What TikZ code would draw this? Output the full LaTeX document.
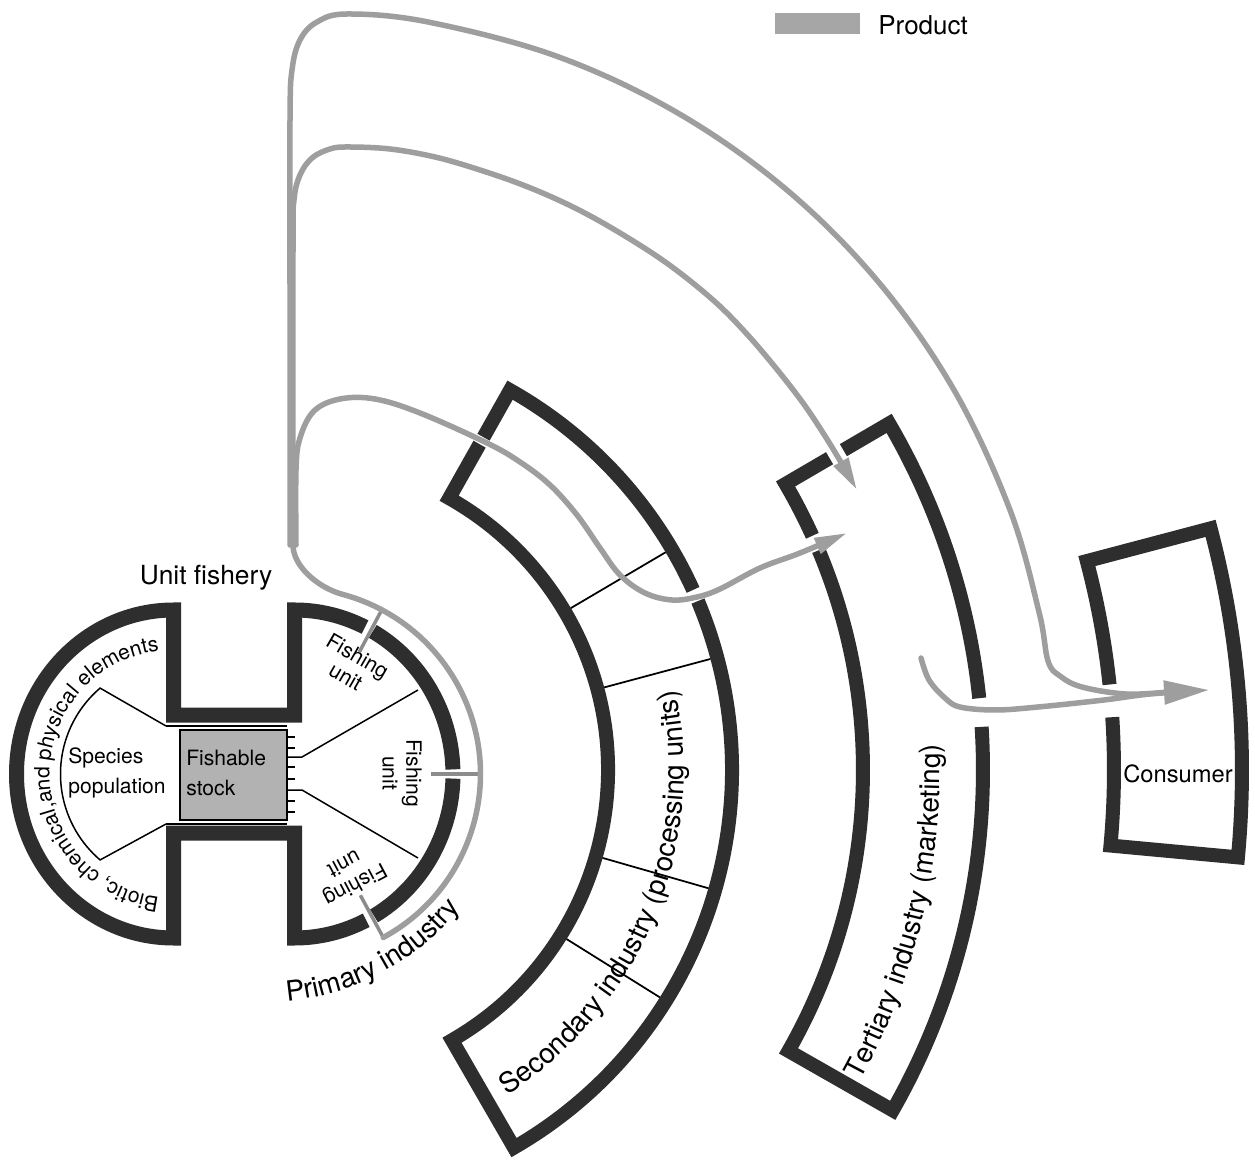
\documentclass[tikz,border=0pt]{standalone}
\usepackage{fontspec}
\setmainfont{TeX Gyre Heros}
\usetikzlibrary{arrows.meta,decorations.text}
\begin{document}
\begin{tikzpicture}[x=0.2mm,y=0.2mm,
  fband/.style={draw=black!82, line width=3mm},
  iband/.style={draw=black!82, line width=2.8mm},
  divline/.style={draw=black, line width=0.35mm},
  thinline/.style={draw=black, line width=0.3mm},
  prod/.style={draw=black!38, line width=1.1mm, line cap=round},
  tapline/.style={draw=black!45, line width=0.7mm},
  flow/.style={prod, -{Triangle[length=6.5mm,width=3.2mm]}},
  bigflow/.style={prod, -{Triangle[length=9mm,width=4.6mm]}},
  small/.style={font=\fontsize{12}{17}\selectfont, inner sep=0pt},
  unitlbl/.style={font=\fontsize{12}{13.5}\selectfont, inner sep=0pt, align=center},
  big/.style={font=\fontsize{15}{18}\selectfont, inner sep=0pt}
]
\useasboundingbox (0,0) rectangle (1255,1166);
\fill[white] (0,0) rectangle (1255,1166);

\coordinate (L) at (173.5,392);
\coordinate (R) at (294.5,392);
\coordinate (O) at (296,396);

% ---------- industry blocks ----------
\begin{scope}[shift={(296,396)}]
 % secondary
 \draw[iband] (60.6:382) -- (60.6:436) arc[start angle=60.6, end angle=24.4, radius=436];
 \draw[iband] (22.8:436) arc[start angle=22.8, end angle=-60, radius=436] -- (-60:312) arc[start angle=-60, end angle=60.6, radius=312] -- (60.6:374);
 \foreach \a in {30.5,15,-16,-32} \draw[divline] (\a:319) -- (\a:429);
 % tertiary
 \draw[iband] (30.3:634) -- (30.3:687) arc[start angle=30.3, end angle=6.0, radius=687];
 \draw[iband] (3.6:687) arc[start angle=3.6, end angle=-29.7, radius=687] -- (-29.7:567) arc[start angle=-29.7, end angle=22.8, radius=567];
 \draw[iband] (24.4:567) arc[start angle=24.4, end angle=30.3, radius=567] -- (30.3:618);
 % consumer
 \draw[iband] (6.0:818) arc[start angle=6.0, end angle=14.8, radius=818] -- (14.8:946) arc[start angle=14.8, end angle=-5.3, radius=946] -- (-5.3:818) arc[start angle=-5.3, end angle=3.7, radius=818];
 % curved labels
 \path[decorate, decoration={text along path, text={|\fontsize{15.9}{18}\selectfont|Secondary industry (processing units)}}] (-57:388) arc[start angle=-57, end angle=45, radius=388];
 \path[decorate, decoration={text along path, text={|\fontsize{15.9}{18}\selectfont|Tertiary industry (marketing)}}] (-28.8:644) arc[start angle=-28.8, end angle=25, radius=644];
\end{scope}

% ---------- unit fishery ----------
\draw[fband] (365.0,538.9) arc[start angle=63.6, end angle=90, x radius=158.5, y radius=164] -- (294.5,451) -- (173.5,451) -- (173.5,556) arc[start angle=90, end angle=270, x radius=157, y radius=164] -- (173.5,333) -- (294.5,333) -- (294.5,228) arc[start angle=270, end angle=296.9, x radius=158.5, y radius=164];
\draw[fband] (374.0,250.1) arc[start angle=300.1, end angle=358.4, x radius=158.5, y radius=164];
\draw[fband] (452.9,396.6) arc[start angle=1.6, end angle=60.4, x radius=158.5, y radius=164];

% fishable stock
\fill[black!30] (180,346) rectangle (287,436);
\draw[thinline] (180,346) rectangle (287,436);
\draw[thinline] (166,440) -- (287,440);
\draw[thinline] (166,342) -- (287,342);
\foreach \y in {429,418,399,387,365,354} \draw[thinline] (287,\y) -- (295,\y);
\draw[thinline] (287,409) -- (302,409) -- (418,476);
\draw[thinline] (287,376) -- (302,376) -- (418,308);
\draw[thinline] (166,440) -- (100.1,477.9) arc[start angle=130.5, end angle=229.5, radius=113] -- (166,342);

\node[small, anchor=west, align=left] (sp) at (68,393) {Species\\population};
\node[small, anchor=west, align=left] (fs) at (186,393) {Fishable\\stock};
\node[unitlbl, rotate=-30] (fu1) at (351.8,499.7) {Fishing\\unit};
\node[unitlbl, rotate=-90] (fu2) at (402,393) {Fishing\\unit};
\node[unitlbl, rotate=-152] (fu3) at (350,291) {Fishing\\unit};
\node[big] (uf) at (206,588) {Unit fishery};

\begin{scope}[shift={(173.5,392)}]
 \path[decorate, decoration={text along path, text align=center, text={|\fontsize{12}{14}\selectfont|Biotic, chemical,and physical elements}}] (300:124) arc[start angle=300, end angle=60, radius=124];
\end{scope}
\begin{scope}[shift={(266,411)}]
 \path[decorate, decoration={text along path, text={|\fontsize{15.9}{18}\selectfont|Primary industry}}] (-85.1:247) arc[start angle=-85.1, end angle=-10, radius=247];
\end{scope}

% ---------- product flows ----------
\begin{scope}[shift={(294.5,392)}]
 \draw[tapline] (62:138) -- (62:186);
 \draw[tapline] (0:136) -- (0:186);
 \draw[tapline] (-61.5:138) -- (-61.5:186);
\end{scope}
\draw[prod] (383.2,228.5) arc[start angle=-61.5, end angle=75, radius=186] .. controls (317.6,578.4) and (293,600) .. (293,621);

% line A (to consumer)
\draw[prod] plot[smooth, tension=0.6] coordinates {(290,621) (290,866) (290,1046) (292,1096) (300,1126) (317,1144) (348,1152) (428,1144) (556,1110) (676,1054) (784.5,978) (878,884.5) (954,776) (1010,656) (1039,554) (1048,505) (1060,490) (1082,479) (1126,472) (1168,474)};
% line B (to tertiary)
\draw[flow] plot[smooth, tension=0.6] coordinates {(293,621) (293,916) (294,966) (300,991) (312,1008) (330,1017) (348,1019) (390,1017) (435,1009) (480,996) (528,979) (575,958) (620,933) (668,902) (713,866) (745,834) (775,799) (803,763) (825,730) (842,702) (857,676)};
% line C (through secondary to tertiary)
\draw[flow] plot[smooth, tension=0.6] coordinates {(296,621) (296,696) (300,728) (314,755) (340,767) (375,767) (420,753) (487,723) (520,704) (550,681) (577,651) (600,618) (620,591) (645,573) (672,566) (697,569) (720,577) (760,598) (800,613) (847,633)};
% line D (tertiary to consumer)
\draw[bigflow] plot[smooth, tension=0.6] coordinates {(921,508) (929,486) (945,468) (960,459) (995,456) (1038,459) (1104,466) (1150,472) (1209,476)};

% legend
\fill[black!35] (775,1132) rectangle (860,1153);
\node[font=\fontsize{14.8}{17}\selectfont, inner sep=0pt, anchor=west] (prodlbl) at (878,1141) {Product};
\node[font=\fontsize{13.5}{16}\selectfont, inner sep=0pt] (cons) at (1178,392) {Consumer};
\end{tikzpicture}
\end{document}
